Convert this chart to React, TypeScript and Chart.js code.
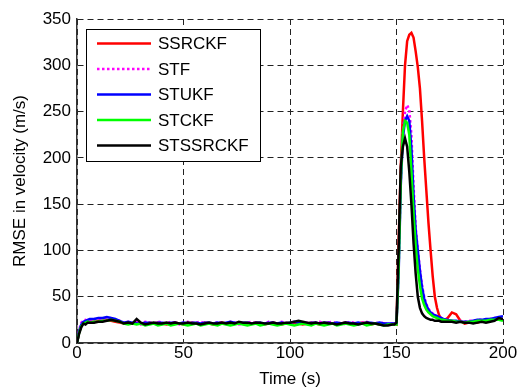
import React, { useEffect, useRef } from "react";
import { Chart, registerables } from "chart.js";

Chart.register(...registerables);

const TIME = [0,1,2,3,4,5,6,8,10,12,14,16,18,20,22,24,26,28,30,32,34,36,38,40,42,44,46,48,50,52,54,56,58,60,62,64,66,68,70,72,74,76,78,80,82,84,86,88,90,92,94,96,98,100,102,104,106,108,110,112,114,116,118,120,122,124,126,128,130,132,134,136,138,140,142,144,146,148,149,150,151,152,153,154,155,156,157,158,159,160,161,162,163,164,165,166,167,168,169,170,171,172,174,176,178,180,182,184,186,188,190,192,194,196,198,200];

const SSRCKF = [
  0,12,19,22,22,23,23,
  23,24,24,25,24,23,22,
  21,22,21,23,21,20,22,21,22,21,
  20,21,22,21,20,21,22,21,20,22,
  21,20,21,22,21,20,21,22,21,20,
  21,22,21,20,21,22,21,20,21,21,
  22,21,20,21,22,21,20,21,22,21,
  20,21,22,21,20,21,22,21,20,21,
  20,21,20,20,
  21,20,110,190,250,300,326,333,335,330,
  315,298,275,240,200,165,130,100,72,50,
  38,30,26,24,
  27,33,31,24,21,22,23,22,24,23,24,25,26,25,
];

const STF = [
  0,14,22,24,25,24,25,
  26,25,27,26,27,25,24,
  22,23,21,24,20,23,22,21,23,22,
  21,23,22,20,22,23,21,22,23,21,
  22,20,23,22,21,23,22,20,21,22,
  23,21,22,20,23,22,21,23,22,21,
  22,23,21,22,20,22,23,21,22,23,
  21,22,20,23,22,21,22,23,21,22,
  21,22,20,21,
  21,22,80,175,228,250,257,252,225,170,
  125,100,80,62,50,42,37,34,32,30,
  29,28,27,26,
  25,24,23,24,23,24,24,25,25,25,26,27,27,28,
];

const STUKF = [
  0,13,20,23,24,25,26,
  26,27,27,28,27,26,24,
  22,23,22,21,21,22,22,21,22,22,
  21,22,22,21,22,21,22,22,21,22,
  22,21,22,21,22,23,22,21,22,22,
  21,22,22,21,22,22,21,22,21,22,
  23,22,22,21,22,22,21,22,22,21,
  22,21,22,22,21,22,21,22,22,21,
  22,21,21,21,
  21,21,75,170,222,240,245,240,210,160,
  122,100,78,60,48,41,36,33,31,30,
  29,28,27,26,
  25,24,24,23,23,23,24,25,25,26,26,27,28,29,
];

const STCKF = [
  0,11,18,21,22,23,22,
  23,23,24,24,25,24,23,
  21,20,21,20,21,19,20,21,19,20,
  21,19,20,21,20,19,20,21,19,20,
  21,20,19,21,20,19,20,21,20,19,
  20,21,19,20,21,20,19,20,21,20,
  19,20,21,20,19,21,20,19,20,21,
  19,20,21,20,19,20,21,19,20,21,
  20,19,20,20,
  20,20,80,175,228,240,238,225,185,140,
  105,80,62,48,41,36,33,31,29,28,
  27,26,25,25,
  24,24,23,23,22,23,23,24,24,24,25,25,25,24,
];

const STSSRCKF = [
  0,10,17,21,20,22,22,
  22,23,23,24,25,24,23,
  21,22,21,26,22,20,21,22,21,21,
  22,21,22,21,21,22,21,21,20,21,
  22,21,21,22,21,22,21,23,22,22,
  21,22,22,21,21,22,21,21,22,22,
  23,24,23,22,21,22,21,22,21,21,
  20,21,22,21,21,20,21,22,21,21,
  20,19,19,20,
  20,22,100,190,212,221,212,185,150,108,
  75,50,38,32,29,27,26,25,25,24,
  24,24,23,23,
  23,23,22,23,22,22,21,22,23,22,23,24,27,26,
];

const SERIES_NAMES = ["SSRCKF", "STF", "STUKF", "STCKF", "STSSRCKF"];
const SERIES_VALUES = [SSRCKF, STF, STUKF, STCKF, STSSRCKF];
const SERIES_COLORS = ["#ff0000", "#ff00ff", "#0000ff", "#00ff00", "#000000"];
const SERIES_DASH = [[], [2.5, 2.5], [], [], []];

const X_TICKS = [0, 50, 100, 150, 200];
const Y_TICKS = [0, 50, 100, 150, 200, 250, 300, 350];

const FONT = "'Liberation Sans', Arial, sans-serif";

const legendPlugin = {
  id: "boxLegend",
  afterDatasetsDraw(chart: any) {
    const ctx = chart.ctx;
    const x0 = 86.5, y0 = 29.5, w = 174, h = 132;
    ctx.save();
    ctx.fillStyle = "#ffffff";
    ctx.fillRect(x0, y0, w, h);
    ctx.strokeStyle = "#000000";
    ctx.lineWidth = 1;
    ctx.strokeRect(x0, y0, w, h);
    ctx.font = `17px ${FONT}`;
    ctx.textBaseline = "middle";
    ctx.textAlign = "left";
    chart.data.datasets.forEach((ds: any, i: number) => {
      const y = 43.5 + 25.5 * i;
      ctx.strokeStyle = ds.borderColor;
      ctx.lineWidth = 2.5;
      ctx.setLineDash(ds.borderDash || []);
      ctx.beginPath();
      ctx.moveTo(97, y);
      ctx.lineTo(151, y);
      ctx.stroke();
      ctx.setLineDash([]);
      ctx.fillStyle = "#000000";
      ctx.fillText(ds.label, 158, y + 1);
    });
    ctx.restore();
  },
};

export default function App() {
  const ref = useRef<HTMLCanvasElement>(null);
  useEffect(() => {
    const canvas = ref.current;
    if (!canvas) return;
    const datasets = SERIES_NAMES.map((name, s) => ({
      label: name,
      data: TIME.map((t, i) => ({ x: t, y: SERIES_VALUES[s][i] })),
      borderColor: SERIES_COLORS[s],
      backgroundColor: SERIES_COLORS[s],
      borderWidth: 2.5,
      borderDash: SERIES_DASH[s],
      pointRadius: 0,
      tension: 0,
      fill: false,
      order: 5 - s,
    }));
    const chart = new Chart(canvas, {
      type: "line",
      data: { datasets },
      plugins: [legendPlugin],
      options: {
        animation: false,
        responsive: false,
        maintainAspectRatio: false,
        layout: { padding: { left: 0, top: 19, right: 15, bottom: 0 } },
        plugins: { legend: { display: false }, tooltip: { enabled: false } },
        scales: {
          x: {
            type: "linear",
            min: 0,
            max: 200,
            afterBuildTicks: (scale: any) => {
              scale.ticks = X_TICKS.map((v) => ({ value: v }));
            },
            afterFit: (scale: any) => {
              scale.height = 49;
            },
            ticks: {
              color: "#000",
              font: { family: FONT, size: 17 },
              padding: 0,
              maxRotation: 0,
            },
            grid: { color: "#222", lineWidth: 1, drawTicks: false },
            border: { display: true, color: "#333", width: 1.5, dash: [6, 4] },
            title: {
              display: true,
              text: "Time (s)",
              color: "#000",
              font: { family: FONT, size: 17 },
              padding: { top: 0, bottom: 2 },
            },
          },
          y: {
            type: "linear",
            min: 0,
            max: 350,
            afterBuildTicks: (scale: any) => {
              scale.ticks = Y_TICKS.map((v) => ({ value: v }));
            },
            afterFit: (scale: any) => {
              scale.width = 77;
            },
            ticks: {
              color: "#000",
              font: { family: FONT, size: 17 },
              padding: 6,
            },
            grid: { color: "#222", lineWidth: 1, drawTicks: false },
            border: { display: true, color: "#333", width: 1.5, dash: [6, 4] },
            title: {
              display: true,
              text: "RMSE in velocity (m/s)",
              color: "#000",
              font: { family: FONT, size: 17 },
              padding: { top: 10, bottom: 0 },
            },
          },
        },
      },
    } as any);
    return () => chart.destroy();
  }, []);
  return (
    <div style={{ position: "fixed", left: 0, top: 0, width: 518, height: 392, background: "#fff" }}>
      <canvas ref={ref} width={518} height={392} style={{ display: "block" }} />
    </div>
  );
}
